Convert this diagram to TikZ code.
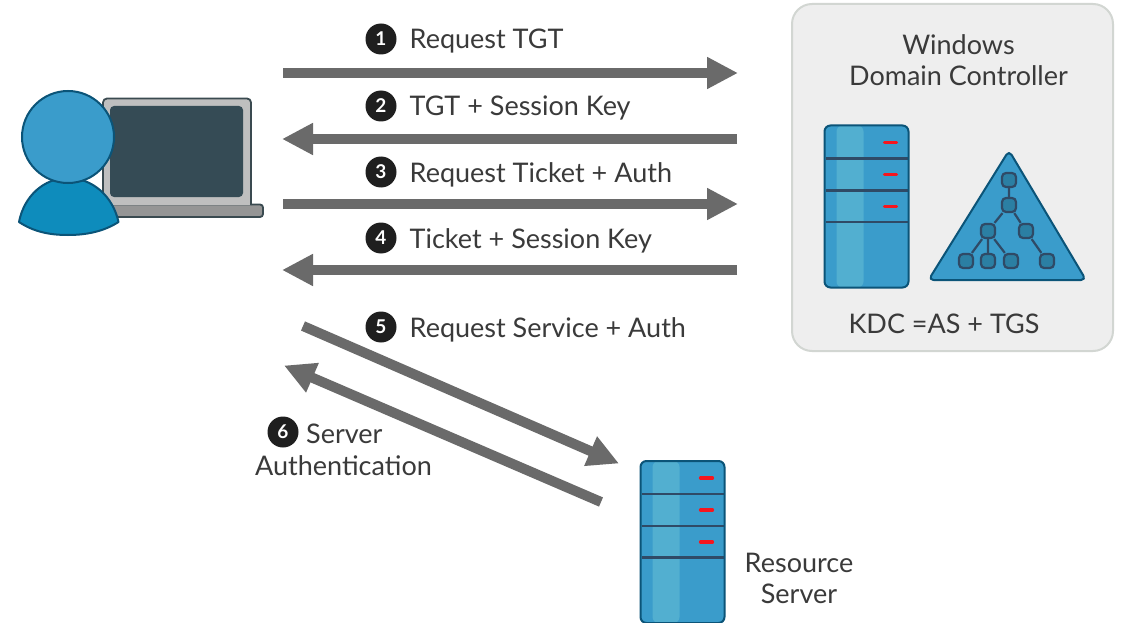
\documentclass[tikz,border=0pt]{standalone}
\usepackage{fontspec}
\setmainfont{Lato}
\usetikzlibrary{arrows.meta}
\definecolor{blue1}{HTML}{3A9CCB}
\definecolor{blue2}{HTML}{0E8CBC}
\definecolor{bluehi}{HTML}{52AFD0}
\definecolor{edgeblue}{HTML}{0B5478}
\definecolor{slate}{HTML}{2F4A66}
\definecolor{treefill}{HTML}{2B7FA3}
\definecolor{screen}{HTML}{354B55}
\definecolor{lapgray}{HTML}{BFBFBF}
\definecolor{lapbase}{HTML}{959595}
\definecolor{lapedge}{HTML}{3A4A50}
\definecolor{flow}{HTML}{6A6A6A}
\definecolor{txt}{HTML}{3A3A3A}
\definecolor{panel}{HTML}{EEEEEE}
\definecolor{paneledge}{HTML}{D2D6D2}
\definecolor{dashred}{HTML}{F5161E}
\tikzset{
  flowarrow/.style={draw=flow,line width=10pt,-{Triangle[length=31pt,width=30pt]}},
  label/.style={font=\fontsize{27}{31}\selectfont,text=txt,inner sep=0pt,anchor=west},
  ctext/.style={font=\fontsize{27}{31}\selectfont,text=txt,inner sep=0pt,align=center},
  num/.style={circle,fill=black!88,text=white,minimum size=31pt,inner sep=0pt,font=\fontsize{19}{19}\selectfont\bfseries},
  tnode/.style={draw=slate,fill=treefill,line width=2.2pt,rounded corners=4pt,minimum size=14pt,inner sep=0pt},
  tlink/.style={draw=slate,line width=2.2pt},
  reddash/.style={draw=dashred,line width=3.2pt,line cap=round},
  shelf/.style={draw=slate,line width=2.6pt},
}
\newcommand{\serverpic}[2]{%
  \begin{scope}[shift={(#1,#2)}]
    \fill[blue1,rounded corners=6pt] (0,0) rectangle (84,162);
    \fill[bluehi,rounded corners=6pt] (12,0) rectangle (39,162);
    \draw[shelf] (1,33) -- (83,33);
    \draw[shelf] (1,65) -- (83,65);
    \draw[shelf] (1,96.5) -- (83,96.5);
    \draw[reddash] (60,17) -- (72,17);
    \draw[reddash] (60,49) -- (72,49);
    \draw[reddash] (60,81) -- (72,81);
    \draw[edgeblue,line width=2pt,rounded corners=6pt] (0,0) rectangle (84,162);
  \end{scope}}
\begin{document}
\begin{tikzpicture}[x=1pt,y=-1pt]
\useasboundingbox (0,0) rectangle (1135,623);
\fill[white] (0,0) rectangle (1135,623);

% domain controller panel
\draw[paneledge,fill=panel,line width=2pt,rounded corners=20pt] (792,4) rectangle (1113,351);
\node[ctext] (dc) at (958.5,60) {Windows\\Domain Controller};
\node[ctext] (kdc) at (944,323.5) {KDC =AS + TGS};
\serverpic{824.5}{125.5}
\draw[edgeblue,fill=blue1,line width=2pt,line join=round,rounded corners=5pt] (1009,150.5) -- (1086,280) -- (928.5,280) -- cycle;
\node[tnode] (t1) at (1009,180) {};
\node[tnode] (t2) at (1009,205) {};
\node[tnode] (t3) at (988,231) {};
\node[tnode] (t4) at (1026,231) {};
\node[tnode] (t5) at (966,261) {};
\node[tnode] (t6) at (988,261) {};
\node[tnode] (t7) at (1011,261) {};
\node[tnode] (t8) at (1047,261) {};
\draw[tlink] (t1)--(t2) (t2)--(t3) (t2)--(t4) (t3)--(t5) (t3)--(t6) (t3)--(t7) (t4)--(t8);

% resource server
\serverpic{640.5}{461}
\node[ctext] (rs) at (799,578) {Resource\\Server};

% laptop
\draw[lapedge,fill=lapbase,line width=1.8pt,rounded corners=3pt] (100,204.5) rectangle (263,217);
\draw[lapedge,fill=lapgray,line width=1.8pt,rounded corners=4pt] (103,205) -- (103,98.5) -- (251,98.5) -- (251,205);
\fill[screen,rounded corners=4pt] (110,106) rectangle (243,197);

% user
\draw[edgeblue,fill=blue2,line width=2pt,line join=round] (19,222) .. controls (24,196) and (44,178) .. (68,178) .. controls (92,178) and (113,196) .. (118.5,222) .. controls (103,232) and (85,235) .. (68,235) .. controls (50,235) and (34,232) .. (19,222) -- cycle;
\node[circle,draw=edgeblue,fill=blue1,line width=2pt,minimum size=92pt,inner sep=0pt] (head) at (68,137) {};

% flow end points
\coordinate (a1) at (283,73); \coordinate (b1) at (738,73);
\coordinate (a2) at (737,139); \coordinate (b2) at (282,139);
\coordinate (a3) at (283,204); \coordinate (b3) at (738,204);
\coordinate (a4) at (737,270); \coordinate (b4) at (282,270);
\coordinate (a5) at (303,326); \coordinate (b5) at (619,463.5);
\coordinate (a6) at (601,502); \coordinate (b6) at (284,365.5);
\draw[flowarrow] (a1) -- (b1);
\draw[flowarrow] (a2) -- (b2);
\draw[flowarrow] (a3) -- (b3);
\draw[flowarrow] (a4) -- (b4);
\draw[flowarrow] (a5) -- (b5);
\draw[flowarrow] (a6) -- (b6);

% labels
\node[num] (n1) at (381,39) {1};
\node[label] (l1) at (409.5,41) {Request TGT};
\node[num] (n2) at (381,106) {2};
\node[label] (l2) at (409.5,108) {TGT + Session Key};
\node[num] (n3) at (381,172) {3};
\node[label] (l3) at (409.5,174.5) {Request Ticket + Auth};
\node[num] (n4) at (381,238) {4};
\node[label] (l4) at (409.5,241) {Ticket + Session Key};
\node[num] (n5) at (381,327) {5};
\node[label] (l5) at (409.5,330) {Request Service + Auth};
\node[num] (n6) at (283,432) {6};
\node[label] (l6) at (306,433.5) {Server};
\node[label] (l6b) at (255,465.5) {Authentication};
\end{tikzpicture}
\end{document}
